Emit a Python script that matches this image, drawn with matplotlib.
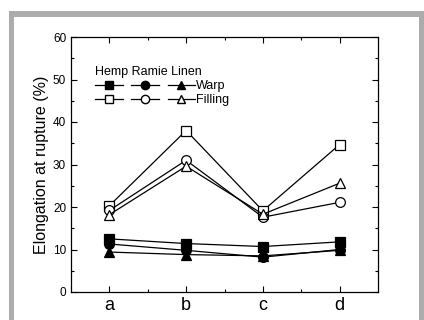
import numpy as np
import matplotlib.pyplot as plt
from matplotlib.patches import Rectangle
from matplotlib.lines import Line2D

plt.rcParams['font.family'] = ['Liberation Sans', 'DejaVu Sans']
plt.rcParams['xtick.direction'] = 'in'
plt.rcParams['ytick.direction'] = 'in'

samples = ['a', 'b', 'c', 'd']
hemp_warp = [12.5, 11.4, 10.7, 11.8]
ramie_warp = [11.3, 9.8, 8.2, 10.0]
linen_warp = [9.4, 8.8, 8.5, 9.8]
hemp_fill = [20.3, 38.0, 19.1, 34.7]
ramie_fill = [19.2, 31.0, 17.6, 21.1]
linen_fill = [18.2, 29.6, 18.3, 25.6]

W, H = 424, 320
fig = plt.figure(figsize=(W / 100, H / 100), dpi=100)

# grey frame around the panel
fig.patches.append(Rectangle((9 / W, 0), 1, (H - 11) / H, transform=fig.transFigure,
                             facecolor='#acacac', edgecolor='none', zorder=-2))
fig.patches.append(Rectangle((14 / W, 0), (419 - 14) / W, (H - 17) / H, transform=fig.transFigure,
                             facecolor='white', edgecolor='none', zorder=-1))

ax = fig.add_axes([71 / W, (H - 292) / H, (378 - 71) / W, (292 - 37) / H])
ax.patch.set_alpha(0)

x = np.arange(1, len(samples) + 1)
kw = dict(color='black', lw=0.9, markersize=7, markeredgewidth=0.9)
series = [
    (hemp_warp, 's', 'black'), (ramie_warp, 'o', 'black'), (linen_warp, '^', 'black'),
    (hemp_fill, 's', 'white'), (ramie_fill, 'o', 'white'), (linen_fill, '^', 'white'),
]
for y, m, fc in series:
    ax.plot(x, y, marker=m, markerfacecolor=fc, markeredgecolor='black', **kw)

ax.set_xlim(0.5, 4.5)
ax.set_ylim(0, 60)
ax.set_xticks(x)
ax.set_xticklabels(samples, fontsize=13)
ax.set_xticks(x[:-1] + 0.5, minor=True)
ax.set_yticks(np.arange(0, 61, 10))
ax.set_yticks(np.arange(5, 60, 10), minor=True)
ax.tick_params(axis='y', labelsize=8.5)
ax.tick_params(which='both', top=True, right=True, width=0.8)
ax.tick_params(which='major', length=4)
ax.tick_params(which='minor', length=2.5)
for sp in ax.spines.values():
    sp.set_linewidth(0.9)
ax.set_ylabel('Elongation at rupture (%)', fontsize=11.5, labelpad=3)

# legend: three fibres in columns, warp / filling in rows
order = [0, 3, 1, 4, 2, 5]
labels = ['', '', '', '', 'Warp', 'Filling']
handles = [Line2D([], [], marker=series[i][1], markerfacecolor=series[i][2],
                  markeredgecolor='black', color='black', lw=0.9, markersize=6)
           for i in order]
narrow = ['Liberation Sans Narrow', 'Liberation Sans']
leg = ax.legend(handles, labels, ncol=3, loc='upper left', bbox_to_anchor=(0.05, 0.92),
                frameon=False, handlelength=2.2, handletextpad=0.1, columnspacing=0.6,
                labelspacing=0.15, borderpad=0.2, title='Hemp Ramie Linen',
                prop={'family': narrow, 'size': 9},
                title_fontproperties={'family': narrow, 'size': 9})
leg._legend_box.align = 'left'

fig.savefig('out.png', dpi=100)
